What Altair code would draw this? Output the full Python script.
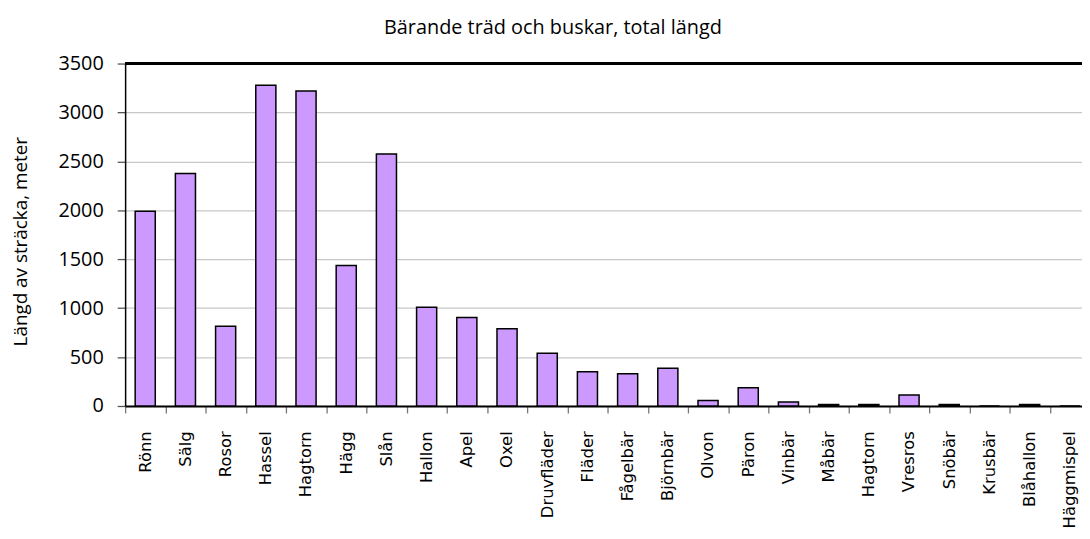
import json
import altair as alt
import pandas as pd

names = ["Rönn", "Sälg", "Rosor", "Hassel", "Hagtorn", "Hägg", "Slån", "Hallon",
         "Apel", "Oxel", "Druvfläder", "Fläder", "Fågelbär", "Björnbär", "Olvon",
         "Päron", "Vinbär", "Måbär", "Hagtorn", "Vresros", "Snöbär", "Krusbär",
         "Blåhallon", "Häggmispel"]
values = [1990, 2375, 815, 3277, 3220, 1437, 2575, 1010,
          905, 790, 540, 350, 330, 385, 57,
          186, 41, 15, 15, 112, 15, 0,
          15, 0]
y_ticks = [0, 500, 1000, 1500, 2000, 2500, 3000, 3500]
y_max = 3500

df = pd.DataFrame({"idx": list(range(len(names))), "name": names, "value": values})

label_expr = json.dumps(names, ensure_ascii=False) + "[datum.value]"
step = 40.5
half = step / 2

bars = alt.Chart(df).mark_bar(
    color="#CC99FF", stroke="black", strokeWidth=1.5
).encode(
    x=alt.X("idx:O", title=None,
            scale=alt.Scale(paddingInner=0.5, paddingOuter=0.25,
                            range=[0, step * len(names)]),
            axis=alt.Axis(labelExpr=label_expr, labelAngle=-90, labelAlign="right",
                          labelBaseline="middle", labelFont="DejaVu Sans",
                          labelFontSize=16.5, labelColor="black", labelPadding=18,
                          tickOffset=-half, labelOffset=half,
                          tickSize=7, tickColor="#777777", tickWidth=1.3,
                          domainColor="black", domainWidth=2, grid=False)),
    y=alt.Y("value:Q", title="Längd av sträcka, meter",
            scale=alt.Scale(domain=[0, y_max], nice=False),
            axis=alt.Axis(values=y_ticks, format="d", tickSize=8, tickColor="#555555",
                          tickWidth=1.3,
                          labelFont="Open Sans", labelFontSize=20, labelColor="black",
                          labelPadding=14, titleFont="Open Sans", titleFontSize=19,
                          titleFontWeight="normal", titleColor="black",
                          titlePadding=28, titleY=179,
                          domainColor="black", domainWidth=1.5,
                          gridColor="#c8c8c8", gridWidth=1.3)),
    tooltip=["name", "value"]
)

top_border = alt.Chart(df).mark_rule(color="black", strokeWidth=2).encode(
    y=alt.datum(y_max)
)

chart = alt.layer(bars, top_border).properties(
    width=964, height=345,
    title=alt.TitleParams("Bärande träd och buskar, total längd", font="Open Sans",
                          fontSize=20, fontWeight="normal", color="black",
                          anchor="middle", frame="group", dx=-51, offset=16),
    autosize=alt.AutoSizeParams(type="none"),
    padding={"left": 118, "top": 54, "right": 0, "bottom": 124}
).configure_view(stroke=None)

chart.save("out.html", embed_options={"renderer": "svg", "actions": False})
